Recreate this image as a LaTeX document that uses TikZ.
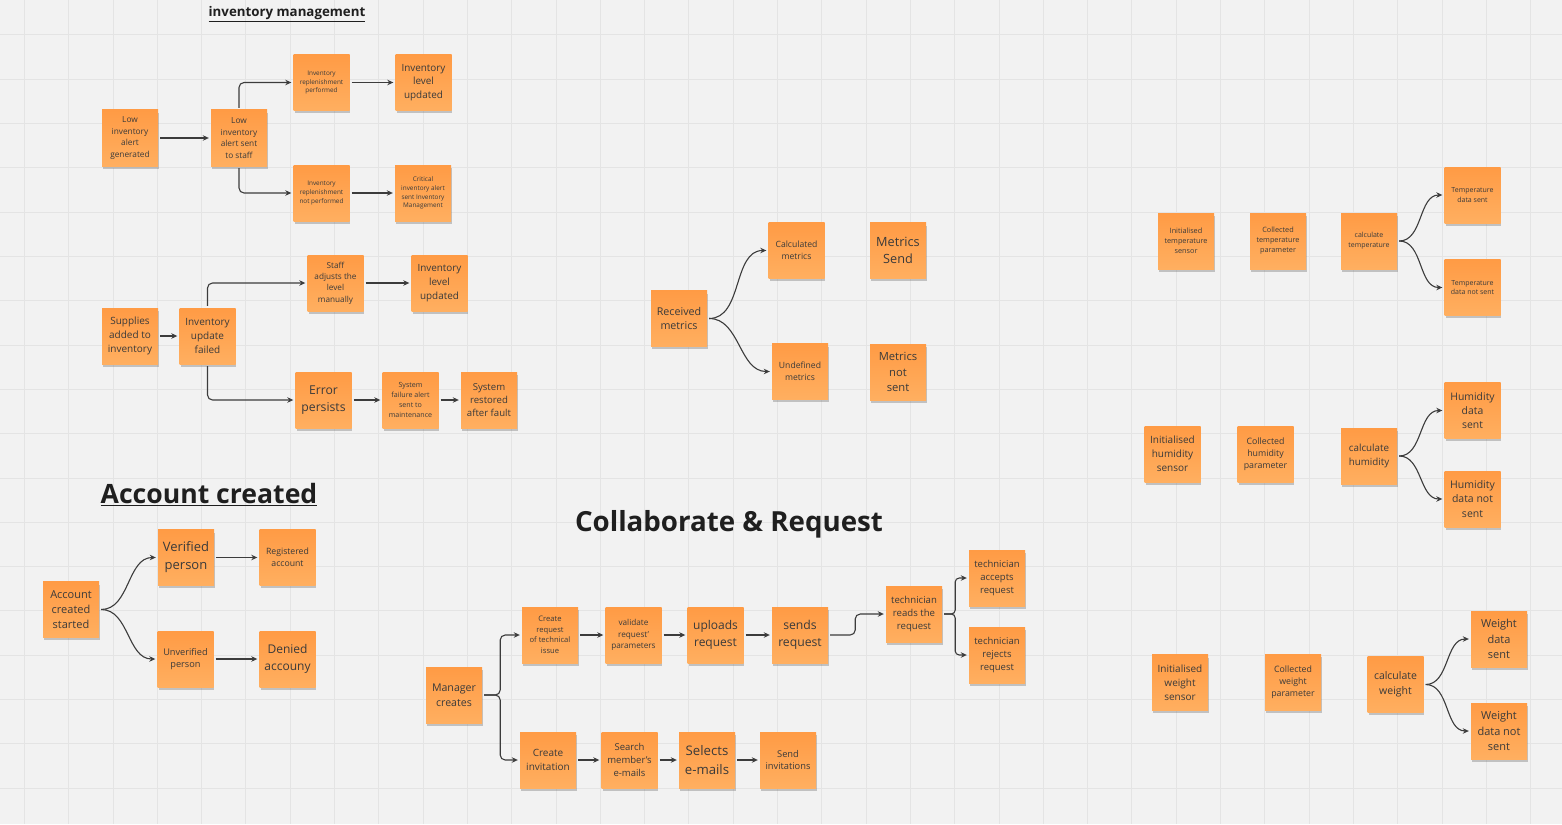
\documentclass[tikz,border=0pt]{standalone}
\usepackage{fontspec}
\setmainfont{Open Sans}
\usetikzlibrary{arrows.meta,shadows}
\definecolor{board}{HTML}{F2F2F2}
\definecolor{gridline}{HTML}{E4E4E4}
\definecolor{stickytop}{HTML}{FF9B45}
\definecolor{stickybot}{HTML}{FFAF60}
\definecolor{inktext}{HTML}{3A3A3A}
\definecolor{inkline}{HTML}{3C3C3C}
\begin{document}
\begin{tikzpicture}[x=1pt,y=-1pt,>={Stealth[length=6pt,width=5.5pt]},
        sticky/.style={minimum width=56pt,minimum height=56pt,inner sep=0pt,align=center,
            top color=stickytop,bottom color=stickybot,text=inktext,
            drop shadow={shadow xshift=1pt,shadow yshift=-3pt,opacity=.35,fill=black!60,shadow scale=.99},
            font=\fontsize{#1pt}{1.38\dimexpr#1pt\relax}\selectfont},
        sticky/.default=9,
        heading/.style={text=black!88,font=\bfseries\fontsize{#1pt}{1.2\dimexpr#1pt\relax}\selectfont},
        flow/.style={->,draw=inkline,line width=1.1pt,shorten >=2pt,shorten <=2pt}]
    % 背景网格
    \useasboundingbox (0,0) rectangle (1562,824);
    \fill[board] (0,0) rectangle (1562,824);
    \foreach \k in {0,...,34} \draw[gridline,line width=1pt] ({24.4+44.3*\k},0) -- ++(0,824);
    \foreach \k in {0,...,17} \draw[gridline,line width=1pt] (0,{35+44.3*\k}) -- ++(1562,0);

    % 库存管理
    \node[heading=13.3] (invtitle) at (287,14) {\underline{inventory management}};
    \node[sticky=8.3] (lowgen) at (130,138) {Low\\inventory\\alert\\generated};
    \node[sticky=8.3] (lowsent) at (239,138) {Low\\inventory\\alert sent\\to staff};
    \node[sticky=6.4] (repl) at (321.5,82.5) {Inventory\\replenishment\\performed};
    \node[sticky=9.9] (lvlup) at (423.5,82.5) {Inventory\\level\\updated};
    \node[sticky=6.4] (norepl) at (321.5,193) {Inventory\\replenishment\\not performed};
    \node[sticky=6.4] (critical) at (423,193) {Critical\\inventory alert\\sent Inventory\\Management};

    \node[sticky=10] (supplies) at (130,336) {Supplies\\added to\\inventory};
    \node[sticky=10] (updfail) at (207.5,336) {Inventory\\update\\failed};
    \node[sticky=8.2] (manual) at (335.5,283) {Staff\\adjusts the\\level\\manually};
    \node[sticky=9.9] (lvlman) at (439.5,283) {Inventory\\level\\updated};
    \node[sticky=12.2] (errpers) at (323.5,400) {Error\\persists};
    \node[sticky=7.1] (failalert) at (410.5,400) {System\\failure alert\\sent to\\maintenance};
    \node[sticky=9.6] (restored) at (489,400) {System\\restored\\after fault};

    \draw[flow] (lowgen) -- (lowsent);
    \draw[flow,rounded corners=5pt] (lowsent.north) |- (repl.west);
    \draw[flow,rounded corners=5pt] (lowsent.south) |- (norepl.west);
    \draw[flow] (repl) -- (lvlup);
    \draw[flow] (norepl) -- (critical);
    \draw[flow] (supplies) -- (updfail);
    \draw[flow,rounded corners=5pt] (updfail.north) |- (manual.west);
    \draw[flow,rounded corners=5pt] (updfail.south) |- (errpers.west);
    \draw[flow] (manual) -- (lvlman);
    \draw[flow] (errpers) -- (failalert);
    \draw[flow] (failalert) -- (restored);

    % 账户创建
    \node[heading=26.6] (acctitle) at (209,495) {\underline{Account created}};
    \node[sticky=11] (accstart) at (71,609.5) {Account\\created\\started};
    \node[sticky=13] (verified) at (186,557.5) {Verified\\person};
    \node[sticky=8.7] (registered) at (287.5,557.5) {Registered\\account};
    \node[sticky=9.2] (unverified) at (185.5,659) {Unverified\\person};
    \node[sticky=12] (denied) at (287.5,659) {Denied\\accouny};

    \draw[flow] (accstart.east) to[out=0,in=180] (verified.west);
    \draw[flow] (accstart.east) to[out=0,in=180] (unverified.west);
    \draw[flow] (verified) -- (registered);
    \draw[flow] (unverified) -- (denied);

    % 协作与请求
    \node[heading=27.7] (coltitle) at (729,524) {Collaborate \& Request};
    \node[sticky=10.6] (mgr) at (454,695) {Manager\\creates};
    \node[sticky=7.6] (techreq) at (550,635) {Create\\request\\of technical\\issue};
    \node[sticky=8.2] (validate) at (633.5,635) {validate\\request'\\parameters};
    \node[sticky=12] (upload) at (715.5,635) {uploads\\request};
    \node[sticky=12.2] (sendreq) at (800,635) {sends\\request};
    \node[sticky=9.6] (reads) at (914,614) {technician\\reads the\\request};
    \node[sticky=9.5] (accepts) at (997,578) {technician\\accepts\\request};
    \node[sticky=9.5] (rejects) at (997,655) {technician\\rejects\\request};
    \node[sticky=10] (invite) at (548,760) {Create\\invitation};
    \node[sticky=9.5] (search) at (629.5,760) {Search\\member's\\e-mails};
    \node[sticky=13.2] (selects) at (707,760) {Selects\\e-mails};
    \node[sticky=9.3] (sendinv) at (788,760) {Send\\invitations};

    \draw[flow,rounded corners=5pt] (mgr.east) -- ++(18,0) |- (techreq.west);
    \draw[flow,rounded corners=5pt] (mgr.east) -- ++(18,0) |- (invite.west);
    \draw[flow] (techreq) -- (validate);
    \draw[flow] (validate) -- (upload);
    \draw[flow] (upload) -- (sendreq);
    \draw[flow,rounded corners=5pt] (sendreq.east) -- ++(27,0) |- (reads.west);
    \draw[flow,rounded corners=4pt] (reads.east) -- ++(13,0) |- (accepts.west);
    \draw[flow,rounded corners=4pt] (reads.east) -- ++(13,0) |- (rejects.west);
    \draw[flow] (invite) -- (search);
    \draw[flow] (search) -- (selects);
    \draw[flow] (selects) -- (sendinv);

    % 指标
    \node[sticky=10.7] (recv) at (679,318.5) {Received\\metrics};
    \node[sticky=8.6] (calc) at (796.5,250.5) {Calculated\\metrics};
    \node[sticky=12.7] (msend) at (898,250.5) {Metrics\\Send};
    \node[sticky=8.6] (undef) at (800,371.5) {Undefined\\metrics};
    \node[sticky=11.2] (mnot) at (898,372) {Metrics\\not\\sent};

    \draw[flow] (recv.east) to[out=0,in=180] (calc.west);
    \draw[flow] (recv.east) to[out=0,in=180] (undef.west);

    % 温度传感器
    \node[sticky=7.3] (tinit) at (1186,241) {Initialised\\temperature\\sensor};
    \node[sticky=7.3] (tcoll) at (1278,241) {Collected\\temperature\\parameter};
    \node[sticky=7] (tcalc) at (1369,241) {calculate\\temperature};
    \node[sticky=7] (tsent) at (1472.5,195) {Temperature\\data sent};
    \node[sticky=7] (tnot) at (1472.5,287.5) {Temperature\\data not sent};

    \draw[flow] (tcalc.east) to[out=0,in=180] (tsent.west);
    \draw[flow] (tcalc.east) to[out=0,in=180] (tnot.west);

    % 湿度传感器
    \node[sticky=10] (hinit) at (1172.5,454) {Initialised\\humidity\\sensor};
    \node[sticky=8.8] (hcoll) at (1265.5,454.5) {Collected\\humidity\\parameter};
    \node[sticky=9.8] (hcalc) at (1369,456) {calculate\\humidity};
    \node[sticky=10.4] (hsent) at (1472.5,410.5) {Humidity\\data\\sent};
    \node[sticky=10.5] (hnot) at (1472.5,499) {Humidity\\data not\\sent};

    \draw[flow] (hcalc.east) to[out=0,in=180] (hsent.west);
    \draw[flow] (hcalc.east) to[out=0,in=180] (hnot.west);

    % 重量传感器
    \node[sticky=10] (winit) at (1180,682.5) {Initialised\\weight\\sensor};
    \node[sticky=8.8] (wcoll) at (1293,682) {Collected\\weight\\parameter};
    \node[sticky=10.5] (wcalc) at (1395.5,684.5) {calculate\\weight};
    \node[sticky=11] (wsent) at (1499,639) {Weight\\data\\sent};
    \node[sticky=11] (wnot) at (1499,731) {Weight\\data not\\sent};

    \draw[flow] (wcalc.east) to[out=0,in=180] (wsent.west);
    \draw[flow] (wcalc.east) to[out=0,in=180] (wnot.west);
\end{tikzpicture}
\end{document}
